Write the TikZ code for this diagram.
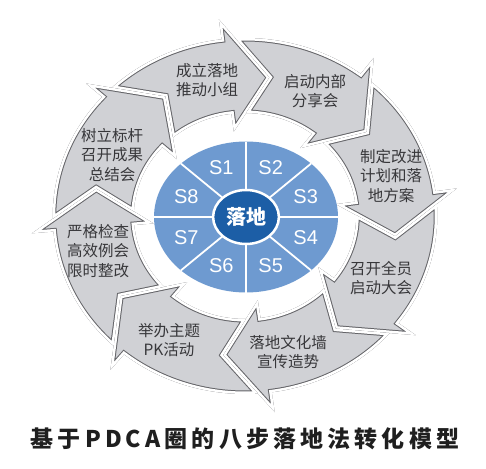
\documentclass[tikz,border=0pt]{standalone}
\usepackage{fontspec}
\setmainfont{Liberation Sans}
\newfontfamily\cjk{Noto Sans CJK SC}
\newfontfamily\sfont{Liberation Sans}
\definecolor{arrowfill}{RGB}{208,209,213}
\definecolor{arrowline}{RGB}{100,100,104}
\definecolor{segblue}{RGB}{110,154,208}
\definecolor{coreblue}{RGB}{28,94,166}
\definecolor{labeltext}{RGB}{55,55,58}
\newcommand\ArrowShape[2]{(#1-4.117:178) arc[start angle=#1-4.117, end angle=#2, radius=178] -- (#2:198) -- (#2-16.31:140.5) -- (#2:85) -- (#2:103) arc[start angle=#2, end angle=#1-7.55, radius=103] -- (#1-16.31:140.5) -- cycle}
\newcommand\DrawArrow[2]{\begin{scope}\clip\ArrowShape{#1}{#2};\fill[arrowfill]\ArrowShape{#1}{#2};\draw[arrowline,line width=7pt]\ArrowShape{#1}{#2};\draw[white,line width=5pt]\ArrowShape{#1}{#2};\end{scope}}
\tikzset{
  lbl/.style={font=\cjk\fontsize{15.5}{19.5}\selectfont, align=center, text=labeltext, inner sep=0pt},
  slbl/.style={font=\sfont\fontsize{20}{20}\selectfont, text=white, inner sep=0pt},
}
\begin{document}
\begin{tikzpicture}[x=1pt,y=-1pt]
\useasboundingbox (0,0) rectangle (486,468);
\fill[white] (0,0) rectangle (486,468);
% ring of arrows
\begin{scope}[shift={(245,216)}, xscale=1.08, yscale=-1]
  \DrawArrow{138}{97}
  \DrawArrow{97}{53}
  \DrawArrow{53}{8}
  \DrawArrow{8}{-37}
  \DrawArrow{-37}{-82}
  \DrawArrow{-82}{-129}
  \DrawArrow{-129}{-175}
  \DrawArrow{185}{138}
\end{scope}
% inner blue disc
\begin{scope}[shift={(246,217)}, xscale=1.2185, yscale=-1]
  \fill[segblue] (0,0) circle (75.5);
  \foreach \a in {0,45,...,315} \draw[white, line width=1.8pt] (0,0) -- (\a:75.5);
  \fill[coreblue, draw=white, line width=2.5pt] (0,0) circle (27);
  \node[slbl] (s1) at (112.5:53) {S1};
  \node[slbl] (s2) at (67.5:53) {S2};
  \node[slbl] (s3) at (22.5:53) {S3};
  \node[slbl] (s4) at (-22.5:53) {S4};
  \node[slbl] (s5) at (-67.5:53) {S5};
  \node[slbl] (s6) at (-112.5:53) {S6};
  \node[slbl] (s7) at (-157.5:53) {S7};
  \node[slbl] (s8) at (157.5:53) {S8};
\end{scope}
\node[font=\cjk\bfseries\fontsize{20}{20}\selectfont, text=white, inner sep=0pt] (core) at (246,217) {落地};
% arrow labels
\node[lbl] (t1) at (207,80) {成立落地\\推动小组};
\node[lbl] (t2) at (315,91) {启动内部\\分享会};
\node[lbl] (t3) at (391,176) {制定改进\\计划和落\\地方案};
\node[lbl] (t4) at (381,278) {召开全员\\启动大会};
\node[lbl] (t5) at (288,352) {落地文化墙\\宣传造势};
\node[lbl] (t6) at (169,340) {举办主题\\PK活动};
\node[lbl] (t7) at (98,251) {严格检查\\高效例会\\限时整改};
\node[lbl] (t8) at (112,155) {树立标杆\\召开成果\\总结会};
% title
\node[font=\cjk\bfseries\fontsize{23}{26}\selectfont, text=black!88, inner sep=0pt] (title) at (245,439) {\addfontfeature{LetterSpace=18}基于PDCA圈的八步落地法转化模型};
\end{tikzpicture}
\end{document}
